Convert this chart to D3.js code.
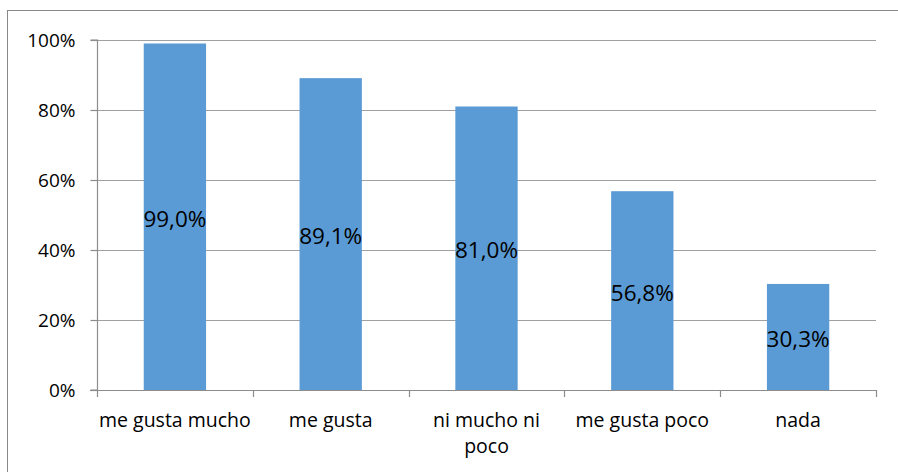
<!DOCTYPE html>
<html>
<head>
<meta charset="utf-8">
<script src="https://cdn.jsdelivr.net/npm/d3@7"></script>
<style>
  body { margin: 0; background: #fff; }
  svg { font-family: "Open Sans", sans-serif; }
</style>
</head>
<body>
<div id="chart"></div>
<script>
var categories = ["me gusta mucho", "me gusta", "ni mucho ni poco", "me gusta poco", "nada"];
var catLines = [["me gusta mucho"], ["me gusta"], ["ni mucho ni", "poco"], ["me gusta poco"], ["nada"]];
var values = [99.0, 89.1, 81.0, 56.8, 30.3];
var ticks = [0, 20, 40, 60, 80, 100];

var width = 898, height = 472;
var margin = {left: 97, right: 22, top: 40, bottom: 82};

var svg = d3.select("#chart").append("svg")
  .attr("width", width).attr("height", height);

// outer chart border (runs off the right and bottom edges)
svg.append("rect")
  .attr("x", 7.5).attr("y", 10.5)
  .attr("width", 900).attr("height", 470)
  .attr("fill", "none").attr("stroke", "#888").attr("stroke-width", 1);

var x = d3.scaleBand().domain(categories)
  .range([margin.left, width - margin.right])
  .paddingInner(0.6).paddingOuter(0.3);

var y = d3.scaleLinear().domain([0, 100])
  .range([height - margin.bottom, margin.top]);

// gridlines
svg.append("g").selectAll("line")
  .data(ticks.filter(function(d){ return d > 0; }))
  .enter().append("line")
  .attr("x1", margin.left).attr("x2", width - margin.right)
  .attr("y1", function(d){ return Math.round(y(d)) + 0.5; })
  .attr("y2", function(d){ return Math.round(y(d)) + 0.5; })
  .attr("stroke", "#a0a0a0").attr("stroke-width", 1.2);

// bars
svg.append("g").selectAll("rect")
  .data(values)
  .enter().append("rect")
  .attr("x", function(d, i){ return x(categories[i]); })
  .attr("width", x.bandwidth())
  .attr("y", function(d){ return y(d); })
  .attr("height", function(d){ return y(0) - y(d); })
  .attr("fill", "#5b9bd5");

// y axis
var yAxis = svg.append("g")
  .attr("transform", "translate(" + (margin.left + 0.5) + ",0)")
  .call(d3.axisLeft(y).tickValues(ticks).tickSize(7).tickPadding(15)
    .tickFormat(function(d){ return d + "%"; }));
yAxis.select(".domain").attr("stroke", "#8c8c8c").attr("stroke-width", 1.2)
  .attr("d", "M-7," + y(100) + "H0V" + y(0) + "H-7");
yAxis.selectAll(".tick line").attr("stroke", "#8c8c8c").attr("stroke-width", 1.2);
yAxis.selectAll("text").attr("font-size", 19).attr("fill", "#000")
  .attr("font-family", "'Open Sans', sans-serif");

// x axis baseline and ticks
var xa = svg.append("g");
xa.append("line")
  .attr("x1", margin.left - 7).attr("x2", width - margin.right)
  .attr("y1", Math.round(y(0)) + 0.5).attr("y2", Math.round(y(0)) + 0.5)
  .attr("stroke", "#8c8c8c").attr("stroke-width", 1.2);
var step = x.step();
var bounds = d3.range(categories.length + 1).map(function(i){ return x(categories[0]) - step * x.paddingOuter() + i * step; });
xa.selectAll(".ctick").data(bounds).enter().append("line")
  .attr("x1", function(d){ return Math.round(d) + 0.5; })
  .attr("x2", function(d){ return Math.round(d) + 0.5; })
  .attr("y1", y(0)).attr("y2", y(0) + 7)
  .attr("stroke", "#8c8c8c").attr("stroke-width", 1.2);

// category labels
var cl = svg.append("g").selectAll("text")
  .data(catLines)
  .enter().append("text")
  .attr("text-anchor", "middle")
  .attr("font-size", 19.5)
  .attr("x", function(d, i){ return x(categories[i]) + x.bandwidth() / 2; })
  .attr("y", y(0) + 37);
cl.selectAll("tspan").data(function(d){ return d; })
  .enter().append("tspan")
  .attr("x", function(){ return d3.select(this.parentNode).attr("x"); })
  .attr("dy", function(d, i){ return i === 0 ? 0 : 26; })
  .text(function(d){ return d; });

// data labels
svg.append("g").selectAll("text")
  .data(values)
  .enter().append("text")
  .attr("text-anchor", "middle")
  .attr("font-size", 22.5)
  .attr("x", function(d, i){ return x(categories[i]) + x.bandwidth() / 2; })
  .attr("y", function(d){ return (y(d) + y(0)) / 2 + 10; })
  .text(function(d){ return d.toFixed(1).replace(".", ",") + "%"; });
</script>
</body>
</html>
